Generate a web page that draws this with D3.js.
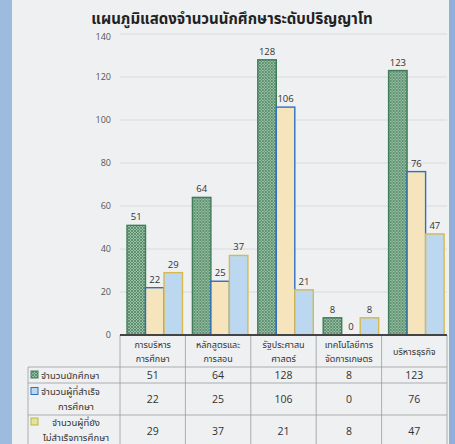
<!DOCTYPE html>
<html>
<head>
<meta charset="utf-8">
<script src="https://cdn.jsdelivr.net/npm/d3@7"></script>
<style>
  html, body { margin: 0; padding: 0; background: #eef0f2; }
  svg { display: block; font-family: "Noto Sans Thai", "Noto Sans", "DejaVu Sans", sans-serif; }
</style>
</head>
<body>
<svg id="chart" width="455" height="444"></svg>
<script>
const title = "แผนภูมิแสดงจำนวนนักศึกษาระดับปริญญาโท";
const categories = ["การบริหารการศึกษา", "หลักสูตรและการสอน", "รัฐประศาสนศาสตร์", "เทคโนโลยีการจัดการเกษตร", "บริหารธุรกิจ"];
const categoryLines = [["การบริหาร", "การศึกษา"], ["หลักสูตรและ", "การสอน"], ["รัฐประศาสน", "ศาสตร์"], ["เทคโนโลยีการ", "จัดการเกษตร"], ["บริหารธุรกิจ"]];
const seriesNames = ["จำนวนนักศึกษา", "จำนวนผู้ที่สำเร็จการศึกษา", "จำนวนผู้ที่ยังไม่สำเร็จการศึกษา"];
const seriesLines = [["จำนวนนักศึกษา"], ["จำนวนผู้ที่สำเร็จ", "การศึกษา"], ["จำนวนผู้ที่ยัง", "ไม่สำเร็จการศึกษา"]];
const students = [51, 64, 128, 8, 123];
const graduated = [22, 25, 106, 0, 76];
const notGraduated = [29, 37, 21, 8, 47];
const yTicks = [0, 20, 40, 60, 80, 100, 120, 140];

const seriesValues = [students, graduated, notGraduated];
const seriesStyle = [
  { fill: "url(#hatch)", stroke: "#3f7c58" },
  { fill: "#f6e4bc", stroke: "#2d6fc6" },
  { fill: "#bcd7f0", stroke: "#d8b94c" }
];

const svg = d3.select("#chart");

// side strips of the page
svg.append("rect").attr("x", 0).attr("y", 0).attr("width", 12).attr("height", 444).attr("fill", "#9dbbdf");
svg.append("rect").attr("x", 449).attr("y", 0).attr("width", 6).attr("height", 444).attr("fill", "#8fb0d8");

// cross-hatched green fill
const defs = svg.append("defs");
const pat = defs.append("pattern").attr("id", "hatch").attr("patternUnits", "userSpaceOnUse")
  .attr("width", 3).attr("height", 3);
pat.append("rect").attr("width", 3).attr("height", 3).attr("fill", "#9cc2a6");
pat.append("path").attr("d", "M0,0L3,3M3,0L0,3").attr("stroke", "#4e8463").attr("stroke-width", 0.8);

const plot = { left: 120, right: 447, top: 34, bottom: 335 };

const x0 = d3.scaleBand().domain(categories).range([plot.left, plot.right]).paddingInner(0).paddingOuter(0);
const x1 = d3.scaleBand().domain([0, 1, 2]).range([7, 7 + 55.5]).padding(0);
const y = d3.scaleLinear().domain([0, 140]).range([plot.bottom, plot.top]);

// title
svg.append("text").attr("x", 232).attr("y", 24).attr("text-anchor", "middle")
  .attr("font-size", 15).attr("font-weight", "bold").attr("fill", "#222").text(title);

// gridlines
svg.append("g").selectAll("line").data(yTicks.filter(t => t > 0)).join("line")
  .attr("x1", plot.left).attr("x2", plot.right)
  .attr("y1", d => y(d)).attr("y2", d => y(d))
  .attr("stroke", "#d8dadc").attr("stroke-width", 1);

// y axis labels
const yAxis = d3.axisLeft(y).tickValues(yTicks).tickSize(0).tickPadding(0);
const gy = svg.append("g").attr("transform", "translate(111,0)").call(yAxis);
gy.select(".domain").remove();
gy.selectAll("text").attr("font-size", 9).attr("fill", "#555").attr("font-family", "Open Sans, sans-serif");
gy.selectAll(".tick").filter(d => d === 140).select("text").attr("dy", "0.6em");

// bars
const groups = svg.append("g").selectAll("g").data(categories).join("g")
  .attr("transform", d => `translate(${x0(d)},0)`);

groups.each(function(cat, ci) {
  const g = d3.select(this);
  seriesValues.forEach((vals, si) => {
    const v = vals[ci];
    const st = seriesStyle[si];
    if (v > 0) {
      g.append("rect")
        .attr("x", x1(si)).attr("y", y(v))
        .attr("width", x1.bandwidth()).attr("height", y(0) - y(v))
        .attr("fill", st.fill).attr("stroke", st.stroke).attr("stroke-width", 1.4);
    }
    g.append("text")
      .attr("x", x1(si) + x1.bandwidth() / 2).attr("y", y(v) - 5)
      .attr("text-anchor", "middle").attr("font-size", 9.5).attr("fill", "#333")
      .attr("font-family", "Open Sans, sans-serif")
      .text(v);
  });
});

// data table below the axis
const rowEdges = [335, 367, 383, 415, 447];
const tableLeft = 28;
const tbl = svg.append("g");
const lineColor = "#9a9c9e";

// horizontal rules
[367, 383, 415].forEach(yy => {
  tbl.append("line").attr("x1", tableLeft).attr("x2", plot.right).attr("y1", yy).attr("y2", yy)
    .attr("stroke", lineColor).attr("stroke-width", 0.8);
});
// vertical rules
const colEdges = categories.map(c => x0(c)).concat([plot.right]);
colEdges.forEach(xx => {
  tbl.append("line").attr("x1", xx).attr("x2", xx).attr("y1", 335).attr("y2", 444)
    .attr("stroke", lineColor).attr("stroke-width", 0.8);
});
tbl.append("line").attr("x1", tableLeft).attr("x2", tableLeft).attr("y1", 367).attr("y2", 444)
  .attr("stroke", lineColor).attr("stroke-width", 0.8);

// category header cells
categories.forEach((c, ci) => {
  const lines = categoryLines[ci];
  const cx = x0(c) + x0.bandwidth() / 2;
  const cy = (335 + 367) / 2;
  lines.forEach((t, li) => {
    tbl.append("text").attr("x", cx)
      .attr("y", cy + (li - (lines.length - 1) / 2) * 14 + 3.5)
      .attr("text-anchor", "middle").attr("font-size", 9).attr("fill", "#333").text(t);
  });
});

// value cells
seriesValues.forEach((vals, si) => {
  const cy = (rowEdges[si + 1] + rowEdges[si + 2]) / 2;
  vals.forEach((v, ci) => {
    tbl.append("text").attr("x", x0(categories[ci]) + x0.bandwidth() / 2).attr("y", cy + 4)
      .attr("text-anchor", "middle").attr("font-size", 10.5).attr("fill", "#333")
      .attr("font-family", "Open Sans, sans-serif").text(v);
  });
});

// legend cells
const swatchFill = ["url(#hatch)", "#bcd7f0", "#e6e29a"];
const swatchStroke = ["#3f7c58", "#2d6fc6", "#b7b64a"];
const legendGap = 15;
seriesLines.forEach((lines, si) => {
  const cy = (rowEdges[si + 1] + rowEdges[si + 2]) / 2 - (si === 2 ? 1.5 : 0);
  const top = cy - (lines.length - 1) * legendGap / 2;
  tbl.append("rect").attr("x", 31).attr("y", top - 4).attr("width", 7).attr("height", 7)
    .attr("fill", swatchFill[si]).attr("stroke", swatchStroke[si]).attr("stroke-width", 1);
  lines.forEach((t, li) => {
    const yy = top + li * legendGap + 3.5;
    if (li === 0 && si < 2) {
      tbl.append("text").attr("x", 41).attr("y", yy).attr("font-size", 9.5).attr("fill", "#333").text(t);
    } else {
      tbl.append("text").attr("x", si === 2 && li === 0 ? 76 : 76).attr("y", yy)
        .attr("text-anchor", "middle").attr("font-size", 9.5).attr("fill", "#333").text(t);
    }
  });
});

// zero axis line
svg.append("line").attr("x1", plot.left).attr("x2", plot.right).attr("y1", y(0)).attr("y2", y(0))
  .attr("stroke", "#444").attr("stroke-width", 2);
</script>
</body>
</html>
